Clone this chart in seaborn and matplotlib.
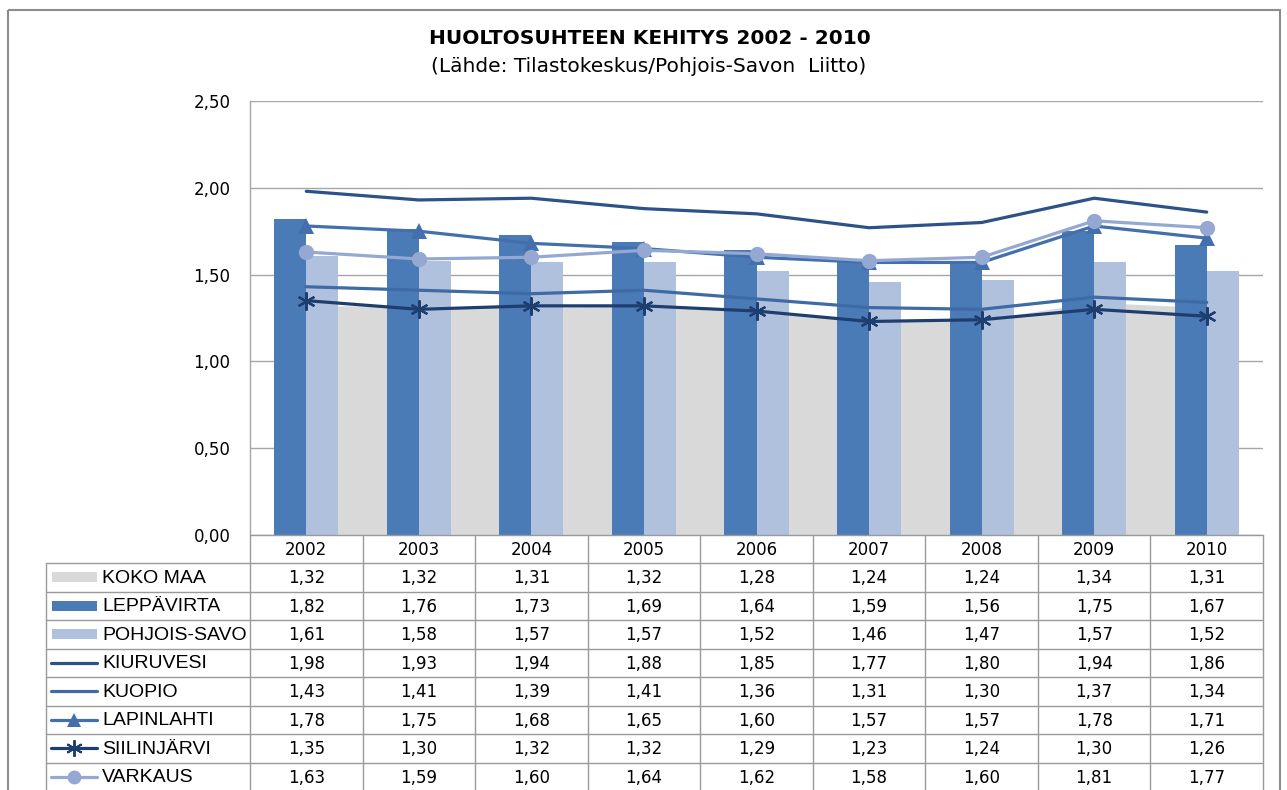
import numpy as np
import pandas as pd
import matplotlib
matplotlib.use("Agg")
import matplotlib.pyplot as plt
from matplotlib.patches import Rectangle
from matplotlib.lines import Line2D
import seaborn as sns

# ---------------- data ----------------
years = ["2002", "2003", "2004", "2005", "2006", "2007", "2008", "2009", "2010"]
koko_maa = [1.32, 1.32, 1.31, 1.32, 1.28, 1.24, 1.24, 1.34, 1.31]
leppavirta = [1.82, 1.76, 1.73, 1.69, 1.64, 1.59, 1.56, 1.75, 1.67]
pohjois_savo = [1.61, 1.58, 1.57, 1.57, 1.52, 1.46, 1.47, 1.57, 1.52]
kiuruvesi = [1.98, 1.93, 1.94, 1.88, 1.85, 1.77, 1.80, 1.94, 1.86]
kuopio = [1.43, 1.41, 1.39, 1.41, 1.36, 1.31, 1.30, 1.37, 1.34]
lapinlahti = [1.78, 1.75, 1.68, 1.65, 1.60, 1.57, 1.57, 1.78, 1.71]
siilinjarvi = [1.35, 1.30, 1.32, 1.32, 1.29, 1.23, 1.24, 1.30, 1.26]
varkaus = [1.63, 1.59, 1.60, 1.64, 1.62, 1.58, 1.60, 1.81, 1.77]

series_names = ["KOKO MAA", "LEPPÄVIRTA", "POHJOIS-SAVO", "KIURUVESI", "KUOPIO",
                "LAPINLAHTI", "SIILINJÄRVI", "VARKAUS"]
yticks = [0.0, 0.5, 1.0, 1.5, 2.0, 2.5]
title = "HUOLTOSUHTEEN KEHITYS 2002 - 2010"
subtitle = "(Lähde: Tilastokeskus/Pohjois-Savon  Liitto)"

# ---------------- style ----------------
C_AREA = "#D9D9D9"
C_LEPPA = "#4A7BB7"
C_PS = "#B0C1DD"
C_KIURU = "#2C5287"
C_KUOP = "#3E6AA6"
C_LAPIN = "#4370AD"
C_SIIL = "#1F3E70"
C_VARK = "#94A8D1"
GRID = "#A6A6A6"
FS = 12
LW = 2.3
STAR = (6, 2, 0)

sns.set_theme(style="white")
plt.rcParams["font.family"] = ["DejaVu Sans"]
plt.rcParams["text.color"] = "black"

W, H = 1287, 790
fig = plt.figure(figsize=(W / 100, H / 100), dpi=100)
fig.patch.set_facecolor("white")

ax = fig.add_axes([250 / W, 1 - 535 / H, (1263 - 250) / W, (535 - 101) / H])
xpos = np.arange(len(years))

# area (koko maa)
ax.fill_between(xpos, 0, koko_maa, color=C_AREA, lw=0, zorder=0.8)

# bars
bars_df = pd.DataFrame({
    "year": years * 2,
    "value": leppavirta + pohjois_savo,
    "series": [series_names[1]] * len(years) + [series_names[2]] * len(years),
})
sns.barplot(data=bars_df, x="year", y="value", hue="series",
            palette=[C_LEPPA, C_PS], width=0.57, saturation=1,
            dodge=True, legend=False, ax=ax, zorder=1,
            linewidth=0, edgecolor="none")

line_specs = [
    (kiuruvesi, C_KIURU, None),
    (kuopio, C_KUOP, None),
    (lapinlahti, C_LAPIN, "^"),
    (siilinjarvi, C_SIIL, STAR),
    (varkaus, C_VARK, "o"),
]
for i, (vals, col, mk) in enumerate(line_specs):
    kw = {}
    if mk is not None:
        if mk == STAR:
            kw = dict(marker=mk, markersize=13, markeredgewidth=1.6,
                      markeredgecolor=col, markerfacecolor=col)
        else:
            kw = dict(marker=mk, markersize=11, markeredgewidth=0,
                      markerfacecolor=col, markeredgecolor=col)
    sns.lineplot(x=xpos, y=vals, color=col, lw=LW, ax=ax, zorder=3 + i, **kw)

ax.set_xlim(-0.5, len(years) - 0.5)
ax.set_ylim(0, 2.5)
ax.set_yticks(yticks)
ax.set_yticklabels([f"{v:.2f}".replace(".", ",") for v in yticks], fontsize=FS,
                   color="black")
ax.tick_params(axis="y", length=0, pad=14, colors="black")
ax.set_xticks([])
ax.set_xlabel("")
ax.set_ylabel("")
ax.set_axisbelow(True)
ax.yaxis.grid(True, color=GRID, lw=1)
for s in ["top", "right", "bottom"]:
    ax.spines[s].set_visible(False)
ax.spines["left"].set_color(GRID)
ax.spines["left"].set_linewidth(1)

# ---------------- titles ----------------
fig.text(650 / W, 1 - 38 / H, title, ha="center", va="center",
         fontsize=14.5, fontweight="bold", color="black")
fig.text(649 / W, 1 - 66 / H, subtitle, ha="center", va="center",
         fontsize=14.5, color="black")

# ---------------- data table ----------------
fig.canvas.draw()
axT = fig.add_axes([0, 0, 1, 1], zorder=10)
axT.set_xlim(0, W)
axT.set_ylim(H, 0)
axT.axis("off")
axT.patch.set_alpha(0)


def px_x(xd):
    return ax.transData.transform((xd, 0))[0]


edges = [px_x(i - 0.5) for i in range(len(years) + 1)]
centers = [px_x(i) for i in range(len(years))]
x_left_tab = 46
y_head_top = 535
y_head_bot = 563
row_h = 28.5
n_rows = len(series_names)
y_bottom = y_head_bot + row_h * n_rows
lc = "#9A9A9A"

axT.plot([edges[0], edges[-1]], [y_head_top, y_head_top], color=lc, lw=1)
for r in range(n_rows + 1):
    y = y_head_bot + r * row_h
    axT.plot([x_left_tab, edges[-1]], [y, y], color=lc, lw=1)
axT.plot([x_left_tab, x_left_tab], [y_head_bot, y_bottom], color=lc, lw=1)
for e in edges:
    axT.plot([e, e], [y_head_top, y_bottom], color=lc, lw=1)

for c, yr in zip(centers, years):
    axT.text(c, (y_head_top + y_head_bot) / 2 + 1, yr, ha="center", va="center",
             fontsize=FS, color="black")

all_vals = [koko_maa, leppavirta, pohjois_savo, kiuruvesi, kuopio,
            lapinlahti, siilinjarvi, varkaus]
key_styles = [
    ("bar", C_AREA, None),
    ("bar", C_LEPPA, None),
    ("bar", C_PS, None),
    ("line", C_KIURU, None),
    ("line", C_KUOP, None),
    ("line", C_LAPIN, "^"),
    ("line", C_SIIL, STAR),
    ("line", C_VARK, "o"),
]
for r, (name, vals, (kind, col, mk)) in enumerate(zip(series_names, all_vals, key_styles)):
    yc = y_head_bot + (r + 0.5) * row_h
    if kind == "bar":
        axT.add_patch(Rectangle((52, yc - 5), 45, 10, color=col, lw=0))
    else:
        axT.add_line(Line2D([51, 97], [yc, yc], color=col, lw=LW))
        if mk is not None:
            if mk == STAR:
                axT.plot([74], [yc], marker=mk, ms=12, mew=1.4, color=col)
            else:
                axT.plot([74], [yc], marker=mk, ms=10, mew=0, color=col)
    axT.text(102, yc + 1, name, ha="left", va="center", fontsize=14,
             family=["Liberation Sans", "DejaVu Sans"], color="black")
    for c, v in zip(centers, vals):
        axT.text(c, yc + 1, f"{v:.2f}".replace(".", ","), ha="center", va="center",
                 fontsize=FS, color="black")

# outer border
axT.add_patch(Rectangle((8, 10), 1272, 800, fill=False, edgecolor="#8C8C8C", lw=1.5))

fig.savefig("out.png", dpi=100)
